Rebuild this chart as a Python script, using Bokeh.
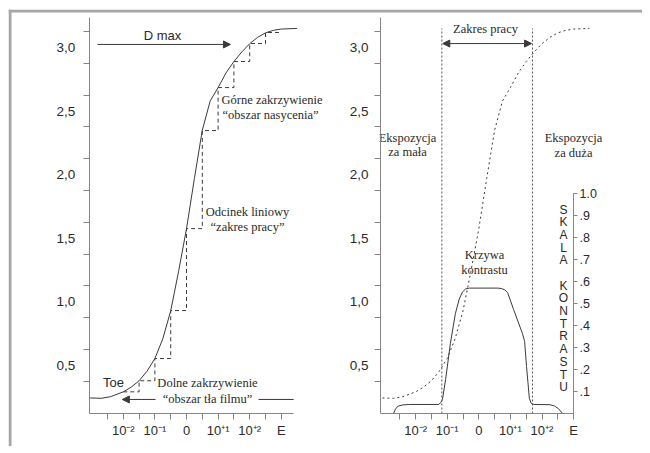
from bokeh.plotting import figure
from bokeh.models import Range1d, LinearAxis, FixedTicker, Arrow, NormalHead, BoxAnnotation
from bokeh.core.properties import value
from bokeh.embed import file_html
from bokeh.resources import INLINE

# ---------------- data ----------------
# characteristic (H&D) curve: log exposure units vs. optical density
curve_u = [-3.05, -2.7, -2.4, -2.0, -1.75, -1.5, -1.25, -1.0, -0.75, -0.5, -0.25,
           0.0, 0.25, 0.5, 0.75, 1.0, 1.25, 1.5, 1.75, 2.0, 2.25, 2.5, 2.75, 3.0, 3.5]
curve_d = [0.245, 0.242, 0.255, 0.293, 0.33, 0.38, 0.455, 0.555, 0.71, 0.93, 1.24,
           1.575, 1.97, 2.35, 2.58, 2.685, 2.8, 2.89, 2.965, 3.03, 3.08, 3.115, 3.135, 3.145, 3.15]
# dashed staircase (density read at half-unit exposure steps)
step_u = [-2.0, -1.5, -1.0, -0.5, 0.0, 0.5, 1.0, 1.5, 2.0, 2.5, 3.0]
step_d = [0.293, 0.38, 0.555, 0.932, 1.576, 2.347, 2.685, 2.89, 3.031, 3.118, 3.118]
# contrast curve (right panel, local exposure units vs. contrast 0..1)
contrast_u = [-2.70, -2.64, -2.55, -2.40, -2.2, -1.27, -1.2, -1.15, -1.05, -0.90, -0.74, -0.62,
              -0.52, -0.42, -0.3, 0.6, 0.72, 0.82, 0.91, 1.10, 1.38, 1.45, 1.51, 1.60,
              1.66, 1.75, 2.25, 2.4, 2.52, 2.65]
contrast_c = [0.0, 0.02, 0.034, 0.039, 0.041, 0.041, 0.05, 0.064, 0.155, 0.318, 0.455, 0.52,
              0.552, 0.566, 0.57, 0.57, 0.568, 0.562, 0.55, 0.473, 0.364, 0.327, 0.214, 0.068,
              0.046, 0.041, 0.04, 0.034, 0.022, 0.0]
work_range = [-1.17, 1.70]           # "Zakres pracy" limits (local exposure units)

d_ticks = [0.5, 1.0, 1.5, 2.0, 2.5, 3.0]
d_labels = ["0,5", "1,0", "1,5", "2,0", "2,5", "3,0"]
d_minor = [0.375, 0.625, 0.875, 1.125, 1.375, 1.625, 1.875, 2.125, 2.375, 2.625, 2.875, 3.125]
e_ticks = [-2, -1, 0, 1, 2, 3]
e_labels = ["10\u207b\u00b2", "10\u207b\u00b9", "0", "10\u207a\u00b9", "10\u207a\u00b2", "E"]
e_minor = [-2.5, -1.5, -0.5, 0.5, 1.5, 2.5]
c_ticks = [0.1, 0.2, 0.3, 0.4, 0.5, 0.6, 0.7, 0.8, 0.9, 1.0]
c_labels = [".1", ".2", ".3", ".4", ".5", ".6", ".7", ".8", ".9", "1.0"]
scale_title = "SKALA KONTRASTU"

# ---------------- layout constants ----------------
OFF = 9.25          # offset of right panel along the shared x range
Y_AX = 0.1226       # density level of the exposure axes
X0, X1 = -5.633, 14.430
Y0, Y1 = -0.1368, 3.2987
AXC = "#858585"
CURVE = "#3a3a3a"
TXT = "#2a2a2a"
FRAME = "#a6a6a6"
SANS = "Liberation Sans"
SERIF = "Liberation Serif"

p = figure(width=634, height=437, x_range=Range1d(X0, X1), y_range=Range1d(Y0, Y1),
           x_axis_type=None, y_axis_type=None, toolbar_location=None, output_backend="svg",
           min_border=0, margin=(9, 0, 0, 8),
           border_fill_color="white", background_fill_color="white", outline_line_color=None)
p.extra_y_ranges = {"c": Range1d(-0.15, 1.8364)}

# gray frame strips (left and top edges of the drawing area)
p.add_layout(BoxAnnotation(left=X0, right=X0 + 3 / 31.6, fill_color=FRAME, fill_alpha=1,
                           line_color=None, level="underlay"))
p.add_layout(BoxAnnotation(bottom=Y1 - 3 / 127.2, top=Y1, fill_color=FRAME, fill_alpha=1,
                           line_color=None, level="underlay"))


def base_style(ax, size):
    ax.axis_line_color = AXC
    ax.axis_line_width = 1
    ax.major_label_text_font = SANS
    ax.major_label_text_font_size = size
    ax.major_label_text_color = TXT
    ax.major_tick_line_color = AXC
    ax.minor_tick_line_color = AXC
    ax.major_tick_in = 0
    ax.minor_tick_in = 0


# density axes (left of each panel)
for xloc, standoff in [(-3.08, 8), (OFF - 3.111, 6)]:
    ax = LinearAxis(fixed_location=xloc, bounds=(Y_AX, 3.235),
                    ticker=FixedTicker(ticks=d_ticks, minor_ticks=d_minor),
                    major_label_overrides=dict(zip(d_ticks, d_labels)))
    base_style(ax, "13.5px")
    ax.major_tick_line_color = None
    ax.major_tick_out = 0
    ax.minor_tick_out = 6
    ax.major_label_standoff = standoff
    p.add_layout(ax, "left")

# exposure axes (bottom of each panel)
for off, b0, b1 in [(0.0, -3.08, 3.39), (OFF, OFF - 3.111, OFF + 3.001)]:
    ticks = [off + t for t in e_ticks]
    ax = LinearAxis(fixed_location=Y_AX, bounds=(b0, b1),
                    ticker=FixedTicker(ticks=ticks, minor_ticks=[off + m for m in e_minor]),
                    major_label_overrides=dict(zip(ticks, e_labels)))
    base_style(ax, "13px")
    ax.major_tick_out = 6
    ax.minor_tick_out = 6
    ax.major_label_standoff = 3
    p.add_layout(ax, "below")

# contrast scale axis
cax = LinearAxis(y_range_name="c", fixed_location=OFF + 3.0, bounds=(0, 1.0),
                 ticker=FixedTicker(ticks=c_ticks, minor_ticks=[]),
                 major_label_overrides=dict(zip(c_ticks, c_labels)))
base_style(cax, "12.5px")
cax.major_tick_out = 4
cax.minor_tick_out = 0
cax.major_label_standoff = 2
p.add_layout(cax, "right")

# ---------------- left panel ----------------
p.line(curve_u, curve_d, line_color=CURVE, line_width=1)
p.step(step_u, step_d, mode="after", line_color=CURVE, line_width=1, line_dash="4 3")

head = dict(size=7, fill_color=CURVE, line_color=CURVE)
p.add_layout(Arrow(end=NormalHead(**head), x_start=-2.82, y_start=3.024, x_end=1.39, y_end=3.024,
                   line_color=CURVE, line_width=1))
p.add_layout(Arrow(end=NormalHead(**head), x_start=-0.98, y_start=0.233, x_end=-2.03, y_end=0.233,
                   line_color=CURVE, line_width=1))
p.segment(x0=[2.28], y0=[0.233], x1=[3.39], y1=[0.233], line_color=CURVE, line_width=1)

p.text(x=[-0.76, -2.31], y=[3.094, 0.366], text=["D max", "Toe"],
       text_font=value(SANS), text_font_size="13px", text_color=TXT,
       text_align="center", text_baseline="middle")
p.text(x=[1.108, 1.139], y=[2.59, 2.473], text=["G\u00f3rne zakrzywienie", "\u201cobszar nasycenia\u201d"],
       text_font=value(SERIF), text_font_size="12.5px", text_color=TXT,
       text_align="left", text_baseline="middle")
p.text(x=[1.93, 1.93, 0.665, 0.665], y=[1.71, 1.59, 0.366, 0.24],
       text=["Odcinek liniowy", "\u201czakres pracy\u201d", "Dolne zakrzywienie", "\u201cobszar t\u0142a filmu\u201d"],
       text_font=value(SERIF), text_font_size="12.5px", text_color=TXT,
       text_align="center", text_baseline="middle")

# ---------------- right panel ----------------
p.line([OFF + u for u in curve_u], curve_d, line_color=CURVE, line_width=1, line_dash="2 3")
p.line([OFF + u for u in contrast_u], contrast_c, y_range_name="c", line_color=CURVE, line_width=1)
p.segment(x0=[OFF + w for w in work_range], y0=[Y_AX, Y_AX],
          x1=[OFF + w for w in work_range], y1=[3.15, 3.15],
          line_color="#555555", line_width=1, line_dash="2 2")
p.add_layout(Arrow(start=NormalHead(**head), end=NormalHead(**head),
                   x_start=OFF + work_range[0] + 0.03, y_start=3.031,
                   x_end=OFF + work_range[1] - 0.03, y_end=3.031,
                   line_color=CURVE, line_width=1))

p.text(x=[OFF + 0.212, OFF - 2.256, OFF - 2.256, OFF + 2.997, OFF + 2.997, OFF + 0.18, OFF + 0.18],
       y=[3.142, 2.292, 2.18, 2.292, 2.174, 1.365, 1.247],
       text=["Zakres pracy", "Ekspozycja", "za ma\u0142a", "Ekspozycja", "za du\u017ca", "Krzywa", "kontrastu"],
       text_font=value(SERIF), text_font_size="12.5px", text_color=TXT,
       text_align="center", text_baseline="middle")

# vertical "SKALA KONTRASTU" title, one letter per row
letters = list(scale_title)
top, step = 1.726, 0.0998
p.text(x=[OFF + 2.68] * len(letters), y=[top - i * step for i in range(len(letters))], text=letters,
       text_font=value(SANS), text_font_size="12px", text_color=TXT,
       text_align="center", text_baseline="middle")

open("out.html", "w").write(file_html(p, INLINE))
